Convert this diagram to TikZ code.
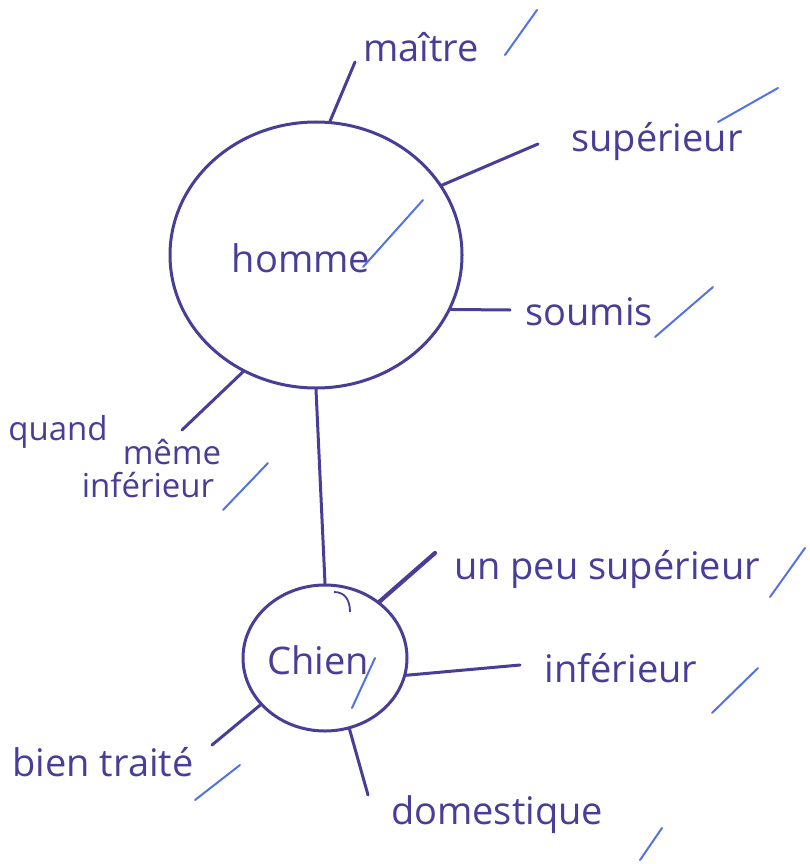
\documentclass[tikz,border=0pt]{standalone}
\usepackage{fontspec}
\setmainfont{Open Sans}
\usetikzlibrary{shapes.geometric}
\definecolor{ink}{RGB}{72,62,152}
\definecolor{tick}{RGB}{85,115,222}
\tikzset{
  bubble/.style={ellipse, draw=ink, line width=3pt, inner sep=0pt},
  lbl/.style={text=ink, inner sep=0pt, font=\fontsize{38}{42}\selectfont},
  small/.style={text=ink, inner sep=0pt, font=\fontsize{33}{36}\selectfont},
  link/.style={draw=ink, line width=3pt, line cap=round},
  slash/.style={draw=tick, line width=2pt, line cap=round}
}
\begin{document}
\begin{tikzpicture}[x=1pt,y=-1pt]
\path[use as bounding box, fill=white] (0,0) rectangle (809,864);
% main bubbles
\node[bubble, minimum width=292pt, minimum height=266pt] (homme) at (316,255) {};
\node[lbl] (hommet) at (301,258) {homme};
\node[bubble, minimum width=164pt, minimum height=146pt] (chien) at (325,658) {};
\node[lbl] (chient) at (318,660) {Chien};
% labels
\node[lbl] (maitre) at (421,47) {maître};
\node[lbl] (sup) at (657,142) {supérieur};
\node[lbl] (soumis) at (589,312) {soumis};
\node[small] (quand) at (58,432) {quand};
\node[small] (meme) at (172,452) {même};
\node[small] (inf1) at (148,485) {inférieur};
\node[lbl] (unpeu) at (607,570) {un peu supérieur};
\node[lbl] (inf2) at (621,668) {inférieur};
\node[lbl] (bien) at (103,762) {bien traité};
\node[lbl] (dom) at (497,815) {domestique};
% free ends of the branches
\coordinate (emaitre) at (355,62);
\coordinate (esup) at (538,144);
\coordinate (esoumis) at (510,310);
\coordinate (equand) at (182,430);
\coordinate (eunpeu) at (435,553);
\coordinate (einf) at (520,665);
\coordinate (ebien) at (212,745);
\coordinate (edom) at (368,795);
% branches
\draw[link] (homme.84) -- (emaitre);
\draw[link] (homme.29) -- (esup);
\draw[link] (homme.-22) -- (esoumis);
\draw[link] (homme.238) -- (equand);
\draw[link] (homme.south) -- (chien.north);
\draw[link, line width=4.2pt] (chien.46) -- (eunpeu);
\draw[link] (chien.-12) -- (einf);
\draw[link] (chien.216) -- (ebien);
\draw[link] (chien.-71) -- (edom);
\draw[draw=ink, line width=1.8pt] (334,592) .. controls (345,592) and (350,600) .. (350,612);
% light tick marks
\draw[slash] (505,55) -- (537,10);
\draw[slash] (718,122) -- (778,88);
\draw[slash] (363,267) -- (423,200);
\draw[slash] (655,337) -- (713,287);
\draw[slash] (223,510) -- (268,463);
\draw[slash] (352,708) -- (375,658);
\draw[slash] (770,597) -- (805,548);
\draw[slash] (712,713) -- (758,668);
\draw[slash] (195,800) -- (240,765);
\draw[slash] (640,860) -- (662,828);
\end{tikzpicture}
\end{document}
